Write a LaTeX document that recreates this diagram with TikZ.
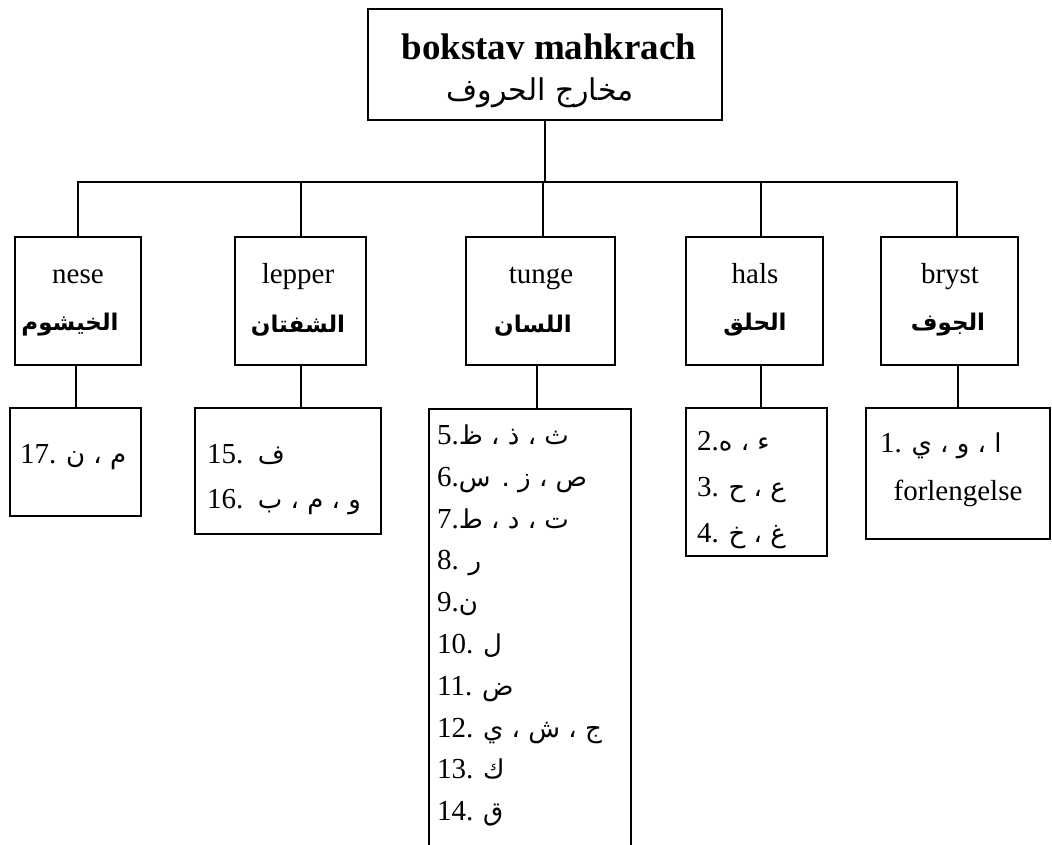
\documentclass[tikz,border=0pt]{standalone}
\usepackage{fontspec}
\setmainfont{Liberation Serif}
\newfontfamily\arabicfont[Script=Arabic]{DejaVu Sans}
\TeXXeTstate=1
\newcommand{\artxt}[1]{{\arabicfont\fontsize{26}{30}\selectfont\beginR #1\endR}}
\begin{document}
\begin{tikzpicture}[x=1pt,y=-1pt,
  box/.style={draw, line width=2pt, inner sep=0pt, rectangle},
  en/.style={font=\fontsize{29}{34}\selectfont, inner sep=0pt, anchor=base},
  arl/.style={font=\fontsize{23}{27}\selectfont\arabicfont\bfseries, inner sep=0pt, anchor=base},
  leaf/.style={font=\fontsize{29}{34}\selectfont, inner sep=0pt, anchor=base west},
  link/.style={draw, line width=2pt}]
\useasboundingbox (0,0) rectangle (1052,845);
\fill[white] (0,0) rectangle (1052,845);

% root
\node[box, minimum width=354pt, minimum height=111pt] (root) at (545,64.5) {};
\node[en, font=\fontsize{37}{40}\selectfont\bfseries] (rootE) at (549,60) {bokstav mahkrach};
\node[arl, font=\fontsize{30}{34}\selectfont\arabicfont] (rootA) at (540,101) {\beginR مخارج الحروف\endR};

% level 2
\node[box, minimum width=126pt, minimum height=128pt] (nese) at (78,301) {};
\node[box, minimum width=131pt, minimum height=128pt] (lepper) at (300.5,301) {};
\node[box, minimum width=149pt, minimum height=128pt] (tunge) at (540.5,301) {};
\node[box, minimum width=137pt, minimum height=128pt] (hals) at (754.5,301) {};
\node[box, minimum width=137pt, minimum height=128pt] (bryst) at (949.5,301) {};

\node[en] (neseE) at (78,283) {nese};
\node[en] (lepperE) at (298,283) {lepper};
\node[en] (tungeE) at (541,283) {tunge};
\node[en] (halsE) at (755,283) {hals};
\node[en] (brystE) at (950,283) {bryst};

\node[arl] (neseA) at (70,330) {\beginR الخيشوم\endR};
\node[arl] (lepperA) at (298,332) {\beginR الشفتان\endR};
\node[arl] (tungeA) at (533,332) {\beginR اللسان\endR};
\node[arl] (halsA) at (755,330) {\beginR الحلق\endR};
\node[arl] (brystA) at (948,330) {\beginR الجوف\endR};

% bus
\coordinate (bus) at (545,182);
\coordinate (dH) at ([xshift=6.5pt]hals.north);
\coordinate (dB) at ([xshift=7.5pt]bryst.north);
\coordinate (dT) at ([xshift=2.5pt]tunge.north);
\draw[link] (root.south) -- (bus);
\draw[link] (nese.north) -- (nese.north |- bus) -- (dB |- bus) -- (dB);
\draw[link] (lepper.north) -- (lepper.north |- bus);
\draw[link] (dT) -- (dT |- bus);
\draw[link] (dH) -- (dH |- bus);

% leaves
\node[box, minimum width=131pt, minimum height=108pt] (neseL) at (75.5,462) {};
\node[box, minimum width=186pt, minimum height=126pt] (lepperL) at (288,471) {};
\begin{scope}
\clip (0,0) rectangle (1052,845);
\node[box, minimum width=202pt, minimum height=491pt] (tungeL) at (530,654.5) {};
\end{scope}
\node[box, minimum width=141pt, minimum height=148pt] (halsL) at (756.5,482) {};
\node[box, minimum width=184pt, minimum height=131pt] (brystL) at (958,473.5) {};

\coordinate (lT) at ([xshift=-3.5pt]tunge.south);
\draw[link] (neseL.north) -- (neseL.north |- nese.south);
\draw[link] (lepper.south) -- (lepper.south |- lepperL.north);
\draw[link] (lT) -- (lT |- tungeL.north);
\draw[link] (hals.south -| dH) -- (halsL.north -| dH);
\draw[link] (brystL.north) -- (brystL.north |- bryst.south);

% leaf texts
\node[leaf] (t17) at (20,463) {17. \artxt{م ، ن}};
\node[leaf] (t15) at (207,463) {15.\ \ \artxt{ف}};
\node[leaf] (t16) at (207,508) {16.\ \ \artxt{و ، م ، ب}};

\node[leaf] (t5) at (437,444) {5.\artxt{ث ، ذ ، ظ}};
\node[leaf] (t6) at (437,486) {6.\artxt{ص ، ز . س}};
\node[leaf] (t7) at (437,528) {7.\artxt{ت ، د ، ط}};
\node[leaf] (t8) at (437,569) {8. \artxt{ر}};
\node[leaf] (t9) at (437,611) {9.\artxt{ن}};
\node[leaf] (t10) at (437,653) {10. \artxt{ل}};
\node[leaf] (t11) at (437,695) {11. \artxt{ض}};
\node[leaf] (t12) at (437,737) {12. \artxt{ج ، ش ، ي}};
\node[leaf] (t13) at (437,778) {13. \artxt{ك}};
\node[leaf] (t14) at (437,820) {14. \artxt{ق}};

\node[leaf] (t2) at (697,450) {2.\artxt{ء ، ه}};
\node[leaf] (t3) at (697,496) {3. \artxt{ع ، ح}};
\node[leaf] (t4) at (697,542) {4. \artxt{غ ، خ}};

\node[leaf] (t1) at (880,452) {1. \artxt{ا ، و ، ي}};
\node[en] (tforl) at (958,500) {forlengelse};
\end{tikzpicture}
\end{document}
